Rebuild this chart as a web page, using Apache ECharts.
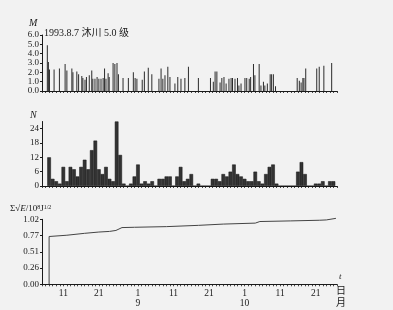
<!DOCTYPE html>
<html><head><meta charset="utf-8">
<script src="https://cdn.jsdelivr.net/npm/echarts@6/dist/echarts.min.js"></script>
<style>html,body{margin:0;padding:0;background:#f2f2f2}#c{width:393px;height:310px}</style>
</head><body><div id="c"></div>
<script>
// Top panel: earthquake events (day of year counted from Aug 1 = 1), magnitude
var quakeDays = [6.5,6.8,7.1,8.4,9.9,11.5,12.0,13.4,13.7,14.8,15.3,16.2,16.5,17.1,17.5,18.3,19.0,19.3,19.9,20.5,21.0,21.6,22.2,22.6,23.0,23.6,23.9,25.0,25.5,26.1,26.5,27.8,29.3,30.7,31.2,31.7,33.2,33.8,34.9,35.9,37.9,38.5,39.0,39.6,40.4,41.0,42.4,43.2,44.1,45.2,46.2,49.0,52.4,53.2,53.7,54.2,55.1,55.6,56.2,56.8,57.6,58.2,58.6,59.3,60.0,60.4,61.0,62.1,62.6,63.3,63.7,64.5,64.9,66.1,66.6,67.3,67.7,68.4,69.2,69.6,70.1,70.7,76.8,77.4,77.9,78.4,78.7,79.2,82.3,83.0,84.3,86.5];
var quakeMags = [4.9,3.1,2.3,2.3,2.4,2.9,2.2,2.4,2.0,2.1,1.8,1.6,1.4,1.2,1.5,1.7,2.2,1.3,1.3,1.5,1.3,1.3,1.4,2.4,1.3,1.9,1.5,3.0,2.9,3.0,1.8,1.4,1.4,2.0,1.4,1.3,1.2,2.1,2.5,1.8,1.3,2.4,1.3,1.7,2.6,1.5,0.8,1.5,1.3,1.4,2.6,1.4,1.4,1.0,2.1,2.1,0.9,1.4,1.5,0.8,1.3,1.4,1.4,1.3,1.4,0.6,0.8,1.4,1.4,1.3,1.5,2.9,1.7,2.9,0.6,1.0,0.6,0.8,1.8,1.8,1.8,0.5,1.4,1.1,0.9,1.4,1.4,2.4,2.4,2.6,2.7,3.0];
// Middle panel: daily counts N, days 7..87
var countDays = [];
for (var d = 7; d <= 87; d++) countDays.push(d);
var counts = [12,3,2,1,8,2,8,7,4,8,11,7,15,19,7,5,8,3,2,27,13,1,0,1,4,9,1,2,1,2,0,3,3,4,4,0,4,8,2,3,5,0,1,0,0,0,3,3,2,5,4,6,9,5,4,3,2,2,6,2,1,5,8,9,1,0,0,0,0,0,6,10,5,0,0,1,1,2,0,2,2];
// Bottom panel: cumulative Benioff strain
var strainDays   = [7,7,12,17,21,24,25.8,26.2,27.5,31,40,49,56,65,66.3,75,83,85,87.7];
var strainValues = [0,0.75,0.77,0.80,0.82,0.83,0.845,0.875,0.89,0.895,0.905,0.925,0.945,0.96,0.985,0.995,1.005,1.01,1.035];
// Tick labels
var xTickDays = [11,21,32,42,52,62,72,82];
var xTickLabels = ['11','21','1','11','21','1','11','21'];
var monthDays = [32,62];
var monthLabels = ['9','10'];
var strainTickLabels = ['0.00','0.26','0.51','0.77','1.02'];

var serif = '"Liberation Serif","DejaVu Serif","Noto Sans CJK SC",serif';
var ink = '#1a1a1a';
function pairs(a,b){return a.map(function(v,i){return [v,b[i]];});}

function xAx(idx, withLabels){
  return {
    type:'value', gridIndex:idx, min:5, max:88, interval:1,
    axisLine:{show:true,lineStyle:{color:ink,width:1}},
    axisTick:{show:true,length:2,inside:false,lineStyle:{color:ink,width:0.8}},
    splitLine:{show:false},
    axisLabel:{show:withLabels, margin:4, fontFamily:serif, fontSize:9.5, color:ink, lineHeight:10, hideOverlap:false,
      formatter:function(v){
        var i = xTickDays.indexOf(Math.round(v));
        if (i < 0 || Math.abs(v-Math.round(v))>1e-6) return '';
        var m = monthDays.indexOf(Math.round(v));
        return xTickLabels[i] + (m>=0 ? '\n' + monthLabels[m] : '');
      }}
  };
}
function yAx(idx, min, max, interval, fmt){
  return {
    type:'value', gridIndex:idx, min:min, max:max, interval:interval,
    axisLine:{show:true,lineStyle:{color:ink,width:1}},
    axisTick:{show:true,length:2,lineStyle:{color:ink}},
    splitLine:{show:false},
    axisLabel:{margin:3, fontFamily:serif, fontSize:9, color:ink, formatter:fmt, hideOverlap:false, showMaxLabel: idx!==1}
  };
}

var chart = echarts.init(document.getElementById('c'), null, {renderer:'canvas'});
chart.setOption({
  backgroundColor:'#f2f2f2',
  animation:false,
  grid:[
    {left:42, width:295, top:35, height:56},
    {left:42, width:295, top:121.5, height:64.5},
    {left:42, width:295, top:219.3, height:65}
  ],
  xAxis:[xAx(0,false), xAx(1,false), xAx(2,true)],
  yAxis:[
    yAx(0,0,6,1,function(v){return v.toFixed(1);}),
    yAx(1,0,27,6,function(v){return (v%6===0)? String(v) : '';}),
    yAx(2,0,1.02,0.255,function(v){var i=Math.round(v/0.255); return strainTickLabels[i]||'';})
  ],
  series:[
    {type:'bar', xAxisIndex:0, yAxisIndex:0, barWidth:1, data:pairs(quakeDays,quakeMags),
     itemStyle:{color:'#2b2b2b'}, clip:false},
    {type:'bar', xAxisIndex:1, yAxisIndex:1, barWidth:3.6, data:pairs(countDays,counts),
     itemStyle:{color:'#333', borderColor:'#111', borderWidth:0.5}, clip:false},
    {type:'line', xAxisIndex:2, yAxisIndex:2, data:pairs(strainDays,strainValues), showSymbol:false,
     lineStyle:{color:'#444', width:1}, clip:false}
  ],
  graphic:[
    {type:'text', left:29, top:18, style:{text:'M', font:'italic 10px '+serif, fill:ink}},
    {type:'text', left:44, top:28, style:{text:'1993.8.7 沐川 5.0 级', font:'10px '+serif, fill:ink}},
    {type:'text', left:30, top:110, style:{text:'N', font:'italic 10px '+serif, fill:ink}},
    {type:'text', left:10, top:204, style:{
      rich:{a:{fontFamily:serif,fontSize:9,fill:ink},e:{fontFamily:serif,fontStyle:'italic',fontSize:9,fill:ink},
            s:{fontFamily:serif,fontSize:6,fill:ink,verticalAlign:'top'}},
      text:'{a|Σ√}{e|E}{a|/10}{s|8}{a|J}{s|1/2}'}},
    {type:'text', left:339, top:272, style:{text:'t', font:'italic 9px '+serif, fill:ink}},
    {type:'text', left:336, top:285, style:{text:'日', font:'10px "Noto Sans CJK SC"', fill:ink}},
    {type:'text', left:336, top:297, style:{text:'月', font:'10px "Noto Sans CJK SC"', fill:ink}}
  ]
});
</script></body></html>
